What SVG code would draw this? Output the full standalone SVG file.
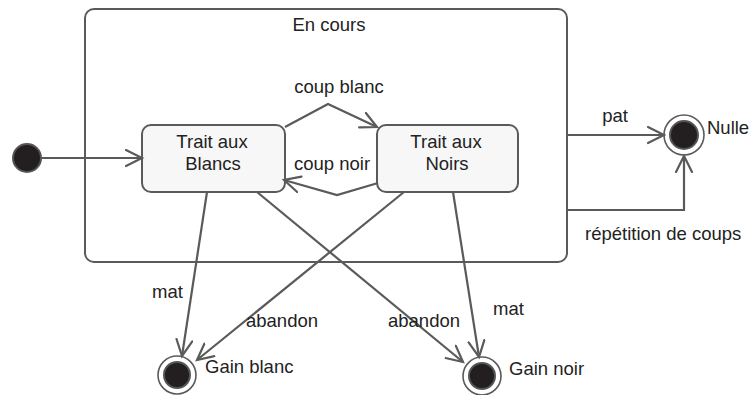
<svg xmlns="http://www.w3.org/2000/svg" width="754" height="395" viewBox="0 0 754 395">
  <style>
    text { font-family: "Liberation Sans", Arial, sans-serif; font-size: 18.5px; fill: #222; }
    .box { fill: #f7f7f7; stroke: #5a5a5a; stroke-width: 2; }
    .outer { fill: #ffffff; stroke: #5a5a5a; stroke-width: 2; }
    .edge { fill: none; stroke: #5a5a5a; stroke-width: 2.2; marker-end: url(#arrow); }
    .ring { fill: #ffffff; stroke: #5a5a5a; stroke-width: 1.6; }
    .dot { fill: #231f20; stroke: #555; stroke-width: 2; }
  </style>
  <defs>
    <marker id="arrow" markerUnits="userSpaceOnUse" markerWidth="22" markerHeight="22" refX="17" refY="9" orient="auto">
      <path d="M1,1 L17,9 L1,17" fill="none" stroke="#5a5a5a" stroke-width="2.2" stroke-linecap="round"/>
    </marker>
  </defs>

  <g id="en-cours">
    <rect class="outer" x="85" y="9" width="482" height="253" rx="9"/>
    <text x="329" y="31" text-anchor="middle">En cours</text>
  </g>

  <g id="initial">
    <circle class="dot" cx="27" cy="158" r="14"/>
  </g>

  <g id="trait-blancs">
    <rect class="box" x="142" y="125" width="143" height="67" rx="9"/>
    <text x="212" y="148" text-anchor="middle">Trait aux</text>
    <text x="213" y="170" text-anchor="middle">Blancs</text>
  </g>

  <g id="trait-noirs">
    <rect class="box" x="377" y="125" width="141" height="67" rx="9"/>
    <text x="446" y="148" text-anchor="middle">Trait aux</text>
    <text x="447" y="170" text-anchor="middle">Noirs</text>
  </g>

  <g id="nulle">
    <circle class="ring" cx="684" cy="135" r="20"/>
    <circle class="dot" cx="684" cy="135" r="14"/>
    <text x="707" y="134">Nulle</text>
  </g>

  <g id="gain-blanc">
    <circle class="ring" cx="177" cy="375" r="19"/>
    <circle class="dot" cx="177" cy="375" r="13"/>
    <text x="205" y="373">Gain blanc</text>
  </g>

  <g id="gain-noir">
    <circle class="ring" cx="482" cy="376" r="19"/>
    <circle class="dot" cx="482" cy="376" r="13"/>
    <text x="509" y="375">Gain noir</text>
  </g>

  <g id="connectors">
    <line class="edge" x1="41" y1="158" x2="142" y2="158"/>
    <polyline class="edge" points="285,127 328,104 377,127"/>
    <polyline class="edge" points="378,183 337,195 284,180"/>
    <line class="edge" x1="567" y1="135" x2="664" y2="135"/>
    <polyline class="edge" points="567,210 684,210 684,156"/>
    <line class="edge" x1="207" y1="192" x2="182" y2="356"/>
    <line class="edge" x1="404" y1="192" x2="197" y2="360"/>
    <line class="edge" x1="257" y1="192" x2="463" y2="362"/>
    <line class="edge" x1="453" y1="192" x2="479" y2="357"/>
    <text x="339" y="93" text-anchor="middle">coup blanc</text>
    <text x="332" y="170" text-anchor="middle">coup noir</text>
    <text x="615" y="122" text-anchor="middle">pat</text>
    <text x="585" y="240">répétition de coups</text>
    <text x="152" y="298">mat</text>
    <text x="246" y="327">abandon</text>
    <text x="388" y="327">abandon</text>
    <text x="493" y="315">mat</text>
  </g>
</svg>
